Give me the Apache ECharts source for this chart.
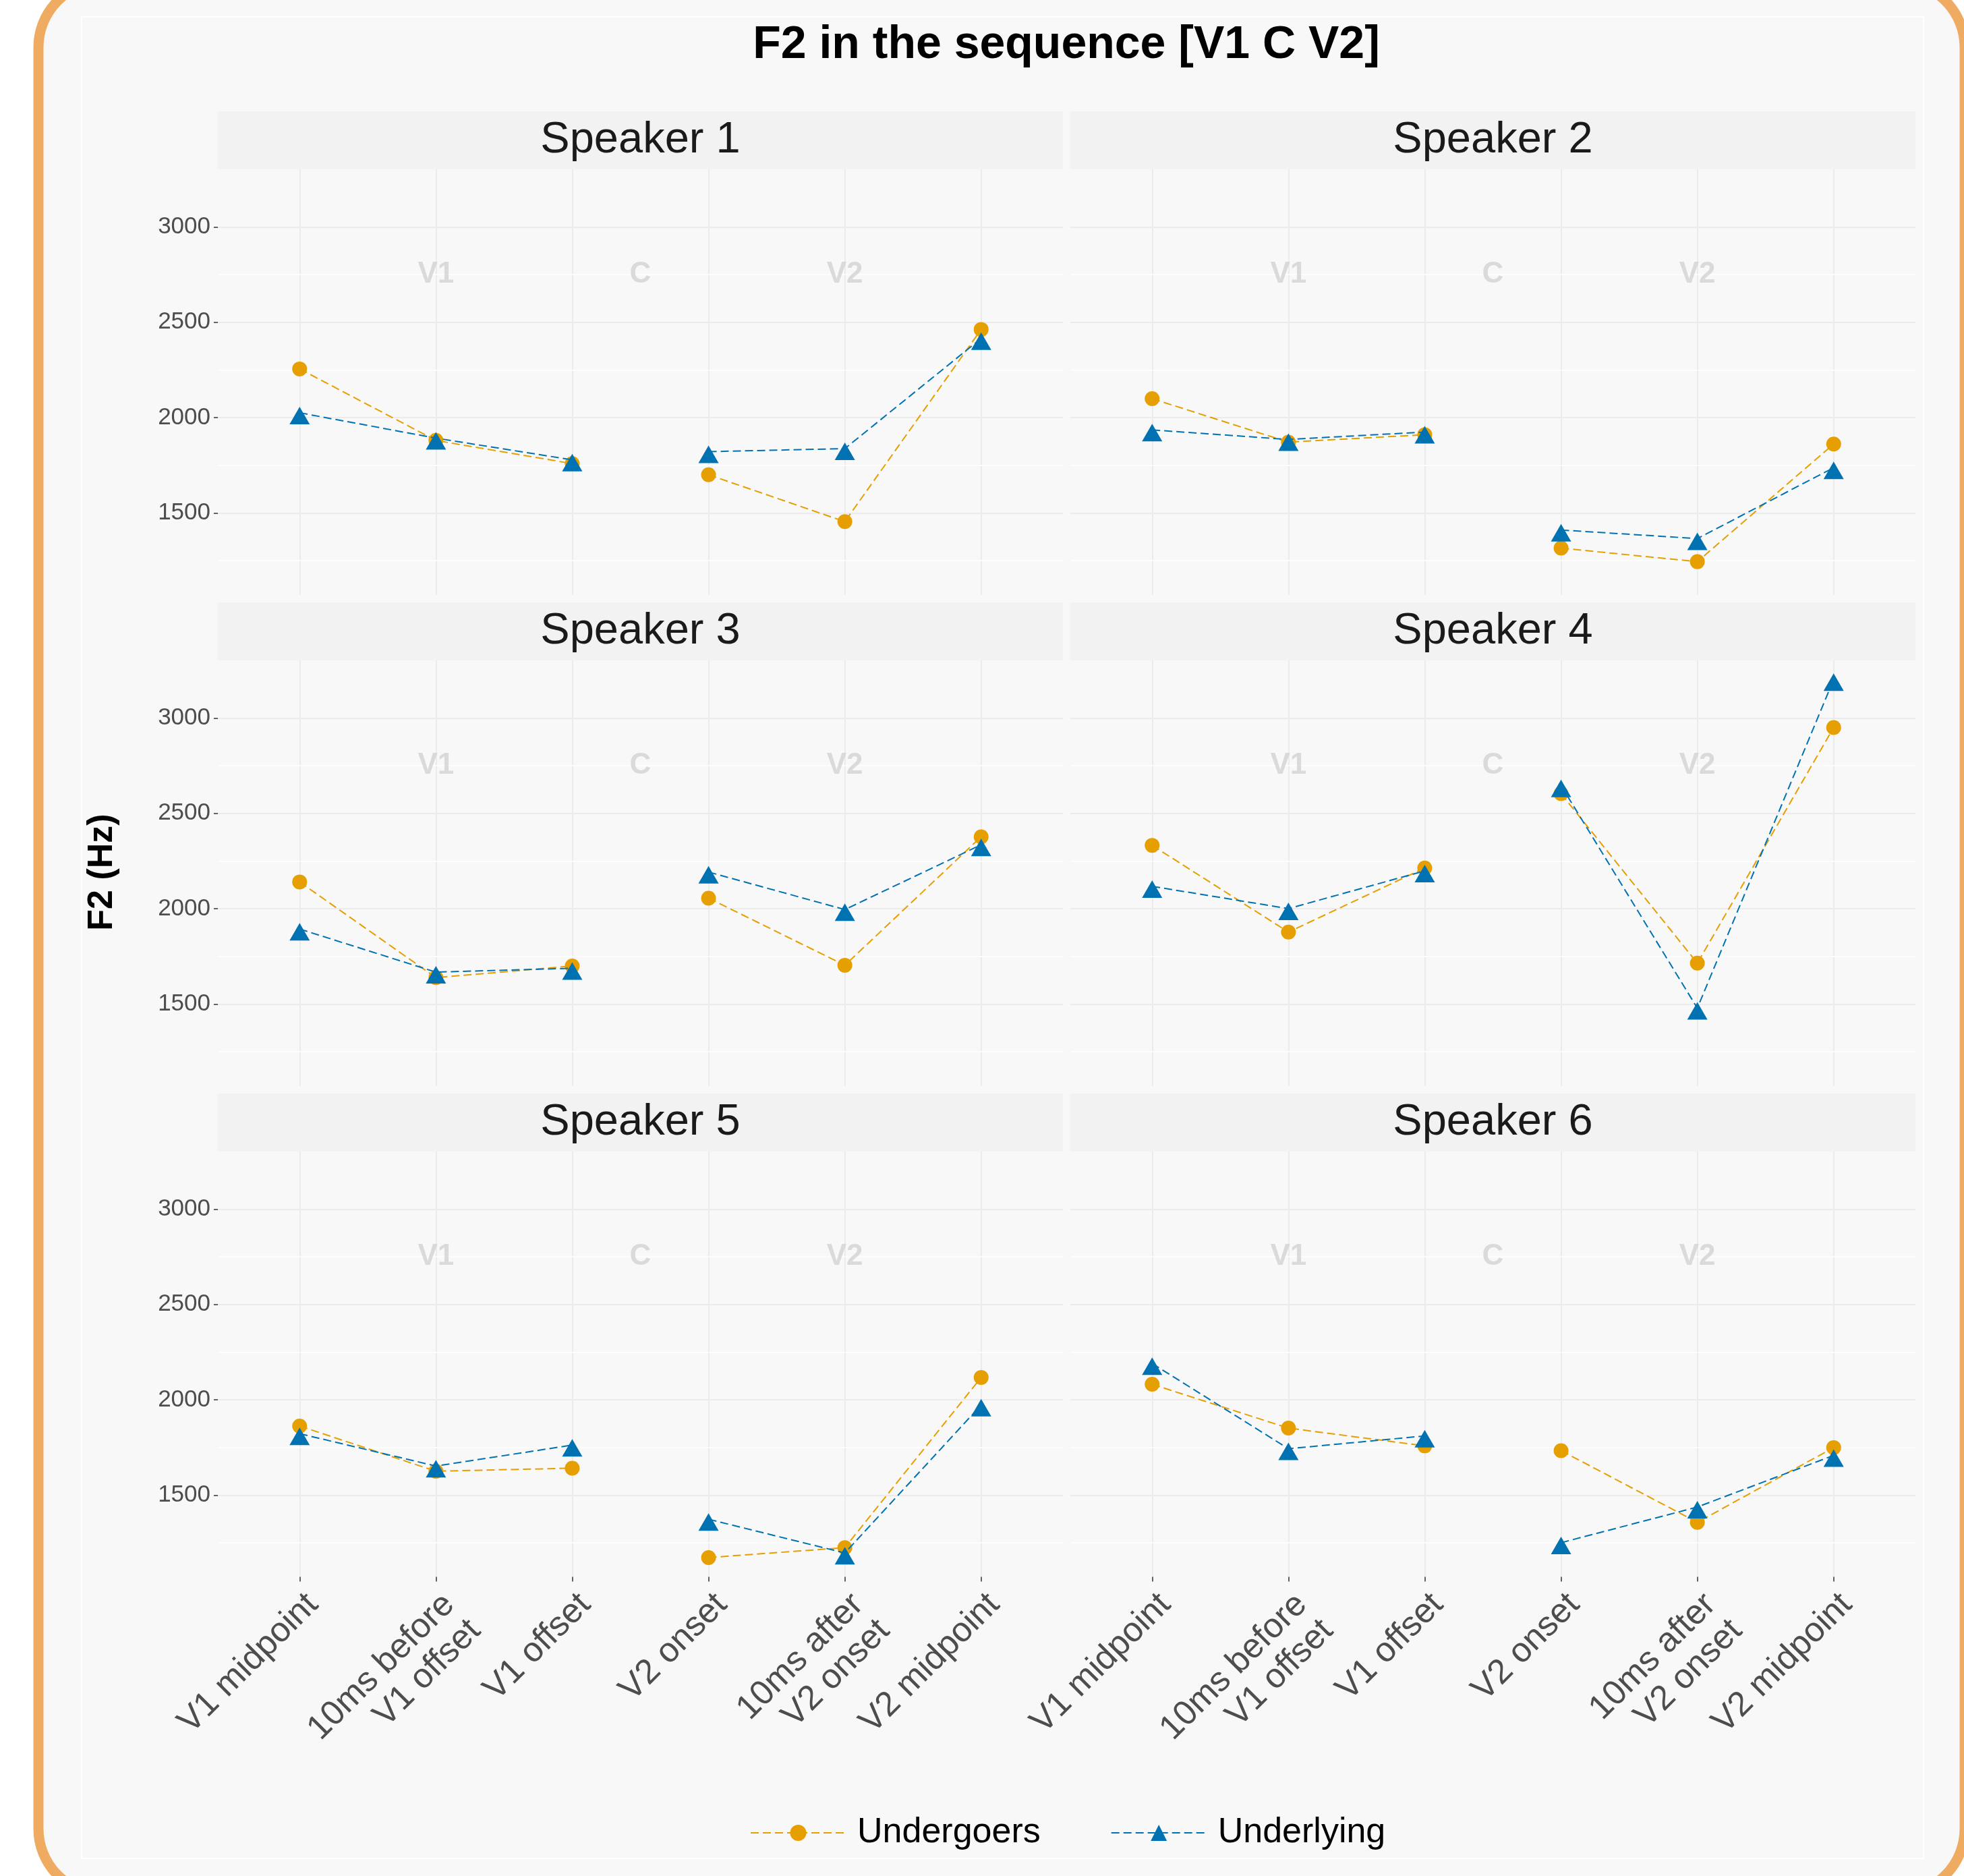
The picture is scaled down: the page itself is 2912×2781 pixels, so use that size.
<!DOCTYPE html>
<html>
<head>
<meta charset="utf-8">
<script src="https://cdn.jsdelivr.net/npm/echarts@6/dist/echarts.min.js"></script>
<style>
html,body{margin:0;padding:0;background:#ffffff;}
#chart{width:2912px;height:2781px;}
</style>
</head>
<body>
<div id="chart"></div>
<script>
// ---------- data ----------
const categories = ['V1 midpoint', '10ms before\nV1 offset', 'V1 offset', 'V2 onset', '10ms after\nV2 onset', 'V2 midpoint'];
const speakers = ['Speaker 1', 'Speaker 2', 'Speaker 3', 'Speaker 4', 'Speaker 5', 'Speaker 6'];
const seriesNames = ['Undergoers', 'Underlying'];

const undergoers1 = [2255, 1880, 1758, 1700, 1454, 2462];
const underlying1 = [2025, 1892, 1778, 1821, 1837, 2415];
const undergoers2 = [2099, 1871, 1910, 1315, 1244, 1861];
const underlying2 = [1935, 1885, 1924, 1410, 1365, 1737];
const undergoers3 = [2140, 1638, 1699, 2055, 1703, 2377];
const underlying3 = [1893, 1667, 1687, 2192, 1995, 2335];
const undergoers4 = [2332, 1877, 2213, 2603, 1714, 2950];
const underlying4 = [2117, 2000, 2198, 2645, 1478, 3202];
const undergoers5 = [1862, 1625, 1641, 1172, 1224, 2117];
const underlying5 = [1822, 1652, 1762, 1373, 1196, 1972];
const undergoers6 = [2081, 1851, 1758, 1733, 1357, 1749];
const underlying6 = [2190, 1743, 1810, 1250, 1437, 1708];

const yTicks = [1500, 2000, 2500, 3000];
const yMinorBreaks = [1250, 1750, 2250, 2750];
const xTicks = [1, 2, 3, 4, 5, 6];
const regionLabels = ['V1', 'C', 'V2'];
const regionPositions = [2, 3.5, 5];
const regionLabelValue = 2750;

const undergoersBySpeaker = [undergoers1, undergoers2, undergoers3, undergoers4, undergoers5, undergoers6];
const underlyingBySpeaker = [underlying1, underlying2, underlying3, underlying4, underlying5, underlying6];

// ---------- layout ----------
const FONT = '"Liberation Sans", Arial, Helvetica, sans-serif';
const colLeft = [323, 1587];
const rowTop = [251, 979, 1707];
const panelW = 1253;
const plotH = 630.5;
const stripH = 86;
const colorUnd = '#E69F00';
const colorUly = '#0072B2';

// values 1..6 with a gap between the V1 and V2 halves
function toPairs(vals) {
  const out = [];
  vals.forEach((v, k) => {
    if (k === 3) out.push([3.5, '-']);
    out.push([k + 1, v]);
  });
  return out;
}

const grids = [], xAxes = [], yAxes = [], series = [], graphics = [];

graphics.push({
  type: 'rect', z: -100,
  shape: { x: 57, y: -27, width: 2856, height: 2835, r: 97 },
  style: { fill: '#f8f8f8', stroke: '#F0AB62', lineWidth: 15 }
});
graphics.push({
  type: 'rect', z: -99,
  shape: { x: 121, y: 25, width: 2731, height: 2730 },
  style: { fill: 'none', stroke: '#ffffff', lineWidth: 2 }
});
graphics.push({
  type: 'text', z: 100, x: 1581, y: 67,
  style: { text: 'F2 in the sequence [V1 C V2]', font: 'bold 68px ' + FONT, fill: '#000000', align: 'center', verticalAlign: 'middle' }
});
graphics.push({
  type: 'text', z: 100, x: 152, y: 1293, rotation: Math.PI / 2,
  style: { text: 'F2 (Hz)', font: 'bold 52px ' + FONT, fill: '#000000', align: 'center', verticalAlign: 'middle' }
});

speakers.forEach((sp, i) => {
  const c = i % 2, r = Math.floor(i / 2);
  const left = colLeft[c], top = rowTop[r];
  grids.push({ left: left, top: top, width: panelW, height: plotH, containLabel: false });

  graphics.push({
    type: 'rect', z: -50,
    shape: { x: left, y: top - stripH, width: panelW, height: stripH },
    style: { fill: '#f2f2f2' }
  });
  graphics.push({
    type: 'text', z: 100, x: left + panelW / 2, y: top - stripH / 2,
    style: { text: sp, font: '65px ' + FONT, fill: '#1a1a1a', align: 'center', verticalAlign: 'middle' }
  });

  const bottom = r === 2;
  xAxes.push({
    type: 'value', gridIndex: i, min: 0.4, max: 6.6,
    axisLine: { show: false },
    axisTick: { show: bottom, customValues: xTicks, length: 7, lineStyle: { color: '#333333', width: 1.5 } },
    axisLabel: {
      show: bottom, customValues: xTicks,
      formatter: v => categories[Math.round(v) - 1] || '',
      rotate: 45, fontSize: 51, color: '#4d4d4d', fontFamily: FONT,
      margin: 14, align: 'right', verticalAlign: 'top', lineHeight: 55
    },
    splitLine: { show: true, showMinLine: true, showMaxLine: true, lineStyle: { color: '#ebebeb', width: 2 } }
  });
  yAxes.push({
    type: 'value', gridIndex: i, min: 1071, max: 3302,
    axisLine: { show: false },
    axisTick: { show: c === 0, customValues: yTicks, length: 6, lineStyle: { color: '#333333', width: 1.5 } },
    axisLabel: { show: c === 0, customValues: yTicks, formatter: v => String(v), fontSize: 35, color: '#4d4d4d', fontFamily: FONT, margin: 11 },
    splitLine: { show: true, showMinLine: true, showMaxLine: true, lineStyle: { color: '#ebebeb', width: 2 } }
  });

  series.push({
    type: 'line', name: seriesNames[0], xAxisIndex: i, yAxisIndex: i,
    data: toPairs(undergoersBySpeaker[i]),
    symbol: 'circle', symbolSize: 22, connectNulls: false,
    itemStyle: { color: colorUnd },
    lineStyle: { color: colorUnd, width: 2, type: [12, 6] },
    z: 3, animation: false, emphasis: { disabled: true },
    markLine: {
      silent: true, symbol: ['none', 'none'], z: 1, animation: false,
      label: { show: false },
      lineStyle: { color: '#ffffff', width: 1.5, type: 'solid' },
      data: yMinorBreaks.map(v => ({ yAxis: v }))
    }
  });
  series.push({
    type: 'line', name: seriesNames[1], xAxisIndex: i, yAxisIndex: i,
    data: toPairs(underlyingBySpeaker[i]),
    symbol: 'triangle', symbolSize: [30, 26], symbolOffset: [0, 4], connectNulls: false,
    itemStyle: { color: colorUly },
    lineStyle: { color: colorUly, width: 2, type: [12, 6] },
    z: 4, animation: false, emphasis: { disabled: true }
  });
  series.push({
    type: 'scatter', name: 'regions', xAxisIndex: i, yAxisIndex: i,
    data: regionPositions.map((x, k) => ({ value: [x, regionLabelValue], name: regionLabels[k] })),
    symbol: 'circle', symbolSize: 2, itemStyle: { color: 'rgba(0,0,0,0)' },
    silent: true, animation: false, z: 2,
    label: { show: true, position: 'inside', formatter: '{b}', fontSize: 44, fontWeight: 'bold', color: '#d2d2d2', fontFamily: FONT }
  });
});

const chart = echarts.init(document.getElementById('chart'), null, { renderer: 'canvas' });
chart.setOption({
  backgroundColor: '#ffffff',
  animation: false,
  grid: grids,
  xAxis: xAxes,
  yAxis: yAxes,
  series: series,
  graphic: graphics,
  legend: {
    data: seriesNames,
    left: 1107, top: 2686,
    itemWidth: 141, itemHeight: 30, itemGap: 104,
    textStyle: { fontSize: 52, color: '#000000', fontFamily: FONT, padding: [0, 0, 0, 12] }
  }
});
</script>
</body>
</html>
